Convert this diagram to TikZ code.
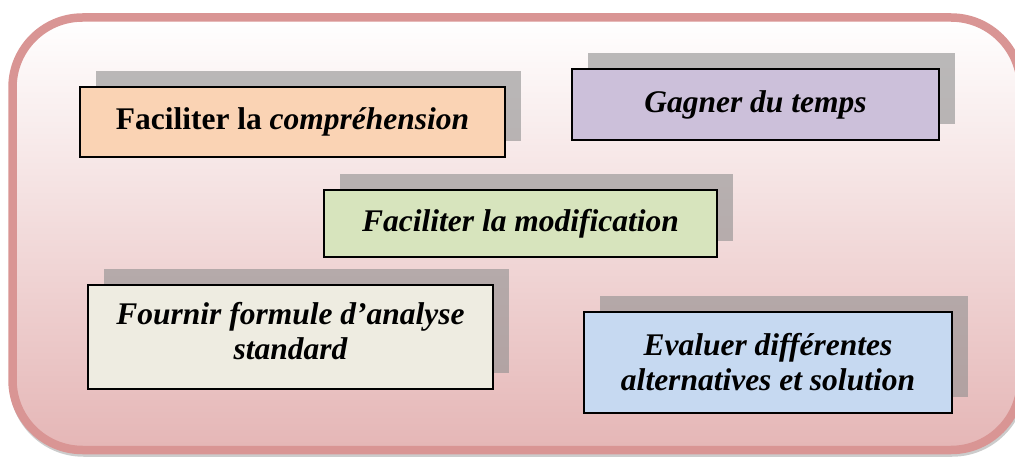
\documentclass[tikz,border=0pt]{standalone}
\usepackage{fontspec}
\setmainfont{Liberation Serif}
\usetikzlibrary{shadows}
\definecolor{cadre}{RGB}{217,149,148}
\definecolor{fondbas}{RGB}{229,182,182}
\definecolor{fondmil}{RGB}{243,222,222}
\definecolor{ombre}{RGB}{142,142,142}
\definecolor{peche}{RGB}{250,211,180}
\definecolor{lavande}{RGB}{204,192,218}
\definecolor{vert}{RGB}{215,228,189}
\definecolor{creme}{RGB}{238,236,225}
\definecolor{bleu}{RGB}{198,217,241}
\begin{document}
\begin{tikzpicture}[x=1pt,y=1pt,
    boite/.style={draw=black,line width=1.5pt,align=center,inner sep=0pt,
      font=\fontsize{31.5}{35}\selectfont\bfseries,
      drop shadow={shadow xshift=16pt,shadow yshift=16pt,fill=ombre,opacity=0.6}},
    italique/.style={boite,font=\fontsize{31.5}{35}\selectfont\bfseries\itshape}]
    \useasboundingbox (0,0) rectangle (1015,458);
    \clip (0,0) rectangle (1015,458);

    % cadre
    \draw[gray!40,line width=8.5pt,rounded corners=70pt] (13.5,5.5) rectangle (1022,437.5);
    \shade[top color=white,middle color=fondmil,bottom color=fondbas,rounded corners=70pt]
      (12.5,8) rectangle (1021,440.5);
    \draw[cadre,line width=8.5pt,rounded corners=70pt] (12.5,8) rectangle (1021,440.5);

    \node[boite,fill=peche,minimum width=425pt,minimum height=70pt] (comp) at (292.5,336)
      {Faciliter la \textit{compréhension}};
    \node[italique,fill=lavande,minimum width=367pt,minimum height=71pt] (temps) at (755.5,353.5)
      {Gagner du temps};
    \node[italique,fill=vert,minimum width=393pt,minimum height=67pt] (modif) at (520.5,234.5)
      {Faciliter la modification};
    \node[italique,fill=creme,minimum width=405pt,minimum height=104pt] (formule) at (290.5,121)
      {Fournir formule d'analyse\\standard\\[-23pt]};
    \node[italique,fill=bleu,minimum width=368pt,minimum height=101pt] (altern) at (768,95.5)
      {Evaluer différentes\\alternatives et solution};
\end{tikzpicture}
\end{document}
